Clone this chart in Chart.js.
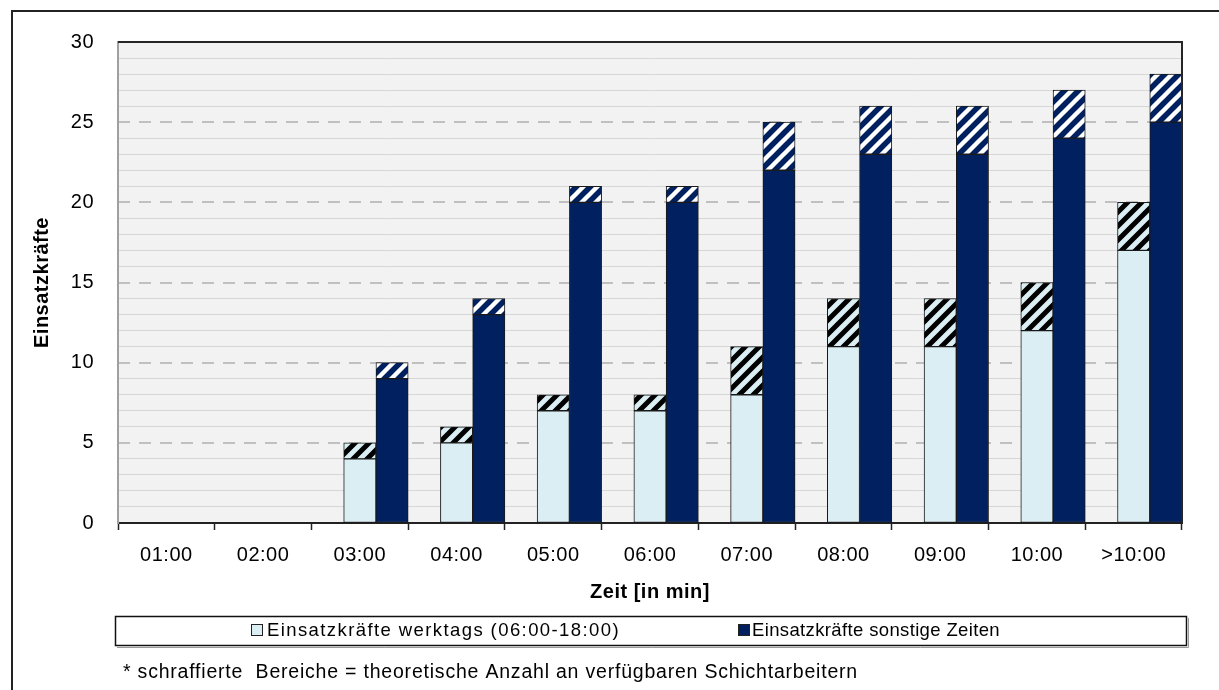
<!DOCTYPE html>
<html>
<head>
<meta charset="utf-8">
<script src="https://cdn.jsdelivr.net/npm/chart.js@4.4.0/dist/chart.umd.min.js"></script>
<style>
  html, body { margin: 0; padding: 0; background: #fff; }
</style>
</head>
<body>
<canvas id="einsatzChart" width="1219" height="690"></canvas>
<script>
// Kategorien (Zeit bis Eintreffen)
const zeiten = ["01:00", "02:00", "03:00", "04:00", "05:00", "06:00", "07:00", "08:00", "09:00", "10:00", ">10:00"];

// werktags 06:00-18:00: fester Anteil + schraffierter Anteil (Schichtarbeiter)
const werktagsFest    = [0, 0, 4, 5, 7, 7, 8, 11, 11, 12, 17];
const werktagsSchicht = [0, 0, 1, 1, 1, 1, 3, 3, 3, 3, 3];

// sonstige Zeiten
const sonstigeFest    = [0, 0, 9, 13, 20, 20, 22, 23, 23, 24, 25];
const sonstigeSchicht = [0, 0, 1, 1, 1, 1, 3, 3, 3, 3, 3];

const yLabels = [0, 5, 10, 15, 20, 25, 30];

const hell = "#dbeef4";
const dunkel = "#002060";

// Schraffur als Canvas-Pattern
const hatch = (bg, fg, w) => {
  const n = 14;
  const c = document.createElement("canvas");
  c.width = c.height = n;
  const g = c.getContext("2d");
  g.fillStyle = bg;
  g.fillRect(0, 0, n, n);
  g.strokeStyle = fg;
  g.lineWidth = w;
  g.beginPath();
  g.moveTo(-4, n + 4); g.lineTo(n + 4, -4);
  g.moveTo(-n, n);     g.lineTo(n, -n);
  g.moveTo(0, 2 * n);  g.lineTo(2 * n, 0);
  g.stroke();
  return g.createPattern(c, "repeat");
};

const toBar = arr => arr.map(v => v || null);

// Rahmen, Hintergrund, Legende, Fußnote
const rahmen = {
  id: "rahmen",
  beforeDraw(chart) {
    const { ctx, chartArea: a } = chart;
    ctx.letterSpacing = "0.5px";
    ctx.save();
    ctx.fillStyle = "#f2f2f2";
    ctx.fillRect(a.left, a.top, a.right - a.left, a.bottom - a.top);
    ctx.restore();
  },
  afterDatasetsDraw(chart) {
    const { ctx, chartArea: a } = chart;
    ctx.save();
    ctx.strokeStyle = "#262626";
    ctx.lineWidth = 2;
    ctx.beginPath();
    ctx.moveTo(a.left, a.top);
    ctx.lineTo(a.right, a.top);
    ctx.lineTo(a.right, a.bottom);
    ctx.stroke();
    ctx.restore();
  },
  afterDraw(chart) {
    const { ctx } = chart;
    const fam = '"Liberation Sans", Arial, sans-serif';
    ctx.save();

    // äußerer Rahmen (nur links/oben sichtbar)
    ctx.strokeStyle = "#222";
    ctx.lineWidth = 2;
    ctx.beginPath();
    ctx.moveTo(12, 690);
    ctx.lineTo(12, 11);
    ctx.lineTo(1219, 11);
    ctx.stroke();

    // Legendenkasten
    ctx.strokeStyle = "#9a9a9a";
    ctx.lineWidth = 1;
    ctx.beginPath();
    ctx.moveTo(117, 647.5);
    ctx.lineTo(1188.5, 647.5);
    ctx.lineTo(1188.5, 618);
    ctx.stroke();
    ctx.strokeStyle = "#111";
    ctx.lineWidth = 1.5;
    ctx.strokeRect(115.5, 616.5, 1071, 29);

    const fitText = (text, x, y, width) => {
      ctx.letterSpacing = "0px";
      const w = ctx.measureText(text).width;
      ctx.letterSpacing = ((width - w) / text.length) + "px";
      ctx.fillText(text, x, y);
    };

    ctx.fillStyle = "#000";
    ctx.textBaseline = "middle";
    ctx.textAlign = "left";
    ctx.font = "18.5px " + fam;

    const items = [
      { ds: 1, box: 251, text: 267, width: 353 },
      { ds: 3, box: 738, text: 752, width: 248 }
    ];
    items.forEach(it => {
      const d = chart.data.datasets[it.ds];
      ctx.fillStyle = d.backgroundColor;
      ctx.fillRect(it.box, 624, 12, 12);
      ctx.strokeStyle = "#222";
      ctx.lineWidth = 1;
      ctx.strokeRect(it.box + 0.5, 624.5, 11, 11);
      ctx.fillStyle = "#000";
      fitText(d.label, it.text, 631, it.width);
    });

    // Fußnote
    ctx.font = "19.5px " + fam;
    fitText("* schraffierte  Bereiche = theoretische Anzahl an verfügbaren Schichtarbeitern", 123, 673, 735);

    ctx.restore();
  }
};

Chart.defaults.font.family = '"Liberation Sans", Arial, sans-serif';
Chart.defaults.font.size = 20;
Chart.defaults.color = "#000";

const bar = {
  borderColor: "#1a1a1a",
  borderWidth: 1,
  borderSkipped: false,
  barPercentage: 1,
  categoryPercentage: 1
};

new Chart(document.getElementById("einsatzChart"), {
  type: "bar",
  data: {
    labels: zeiten,
    datasets: [
      // leerer Platz links in jeder Kategorie
      { ...bar, label: "", data: zeiten.map(() => null), stack: "leer", backgroundColor: "transparent", borderWidth: 0 },
      { ...bar, label: "Einsatzkräfte werktags (06:00-18:00)", data: toBar(werktagsFest), stack: "werktags", backgroundColor: hell },
      { ...bar, label: "Schichtarbeiter werktags", data: toBar(werktagsSchicht), stack: "werktags", backgroundColor: hatch(hell, "#000", 5) },
      { ...bar, label: "Einsatzkräfte sonstige Zeiten", data: toBar(sonstigeFest), stack: "sonstige", backgroundColor: dunkel },
      { ...bar, label: "Schichtarbeiter sonstige Zeiten", data: toBar(sonstigeSchicht), stack: "sonstige", backgroundColor: hatch(dunkel, "#fff", 4.4) }
    ]
  },
  options: {
    responsive: false,
    animation: false,
    devicePixelRatio: 1,
    layout: { padding: { left: 0, right: 37, top: 42, bottom: 0 } },
    plugins: {
      legend: { display: false },
      tooltip: { enabled: false }
    },
    scales: {
      x: {
        stacked: true,
        grid: {
          drawOnChartArea: false,
          tickLength: 7,
          tickColor: "#222",
          tickWidth: 1.5
        },
        border: { color: "#222", width: 2 },
        ticks: { padding: 13, maxRotation: 0, autoSkip: false },
        title: {
          display: true,
          text: "Zeit [in min]",
          font: { weight: "bold", size: 20 },
          padding: { top: 0, bottom: 86 }
        },
        afterFit: s => { s.height = 167; }
      },
      y: {
        stacked: true,
        min: 0,
        max: 30,
        ticks: {
          stepSize: 1,
          autoSkip: false,
          padding: 24,
          callback: v => yLabels.includes(v) ? v : ""
        },
        grid: {
          drawTicks: false,
          color: c => c.tick && c.tick.value % 5 === 0 ? "transparent" : "#d6d6d6",
          lineWidth: 1
        },
        border: { color: "#a0a0a0", width: 2 },
        title: {
          display: true,
          text: "Einsatzkräfte",
          font: { weight: "bold", size: 20 },
          padding: { top: 30, bottom: 0 }
        },
        afterFit: s => { s.width = 118; }
      },
      y2: {
        position: "left",
        min: 0,
        max: 30,
        ticks: { display: false, stepSize: 5 },
        grid: { drawTicks: false, color: "#c0c0c0", lineWidth: 2 },
        border: { display: false, dash: [12, 9] },
        afterFit: s => { s.width = 0; }
      }
    }
  },
  plugins: [rahmen]
});
</script>
</body>
</html>
